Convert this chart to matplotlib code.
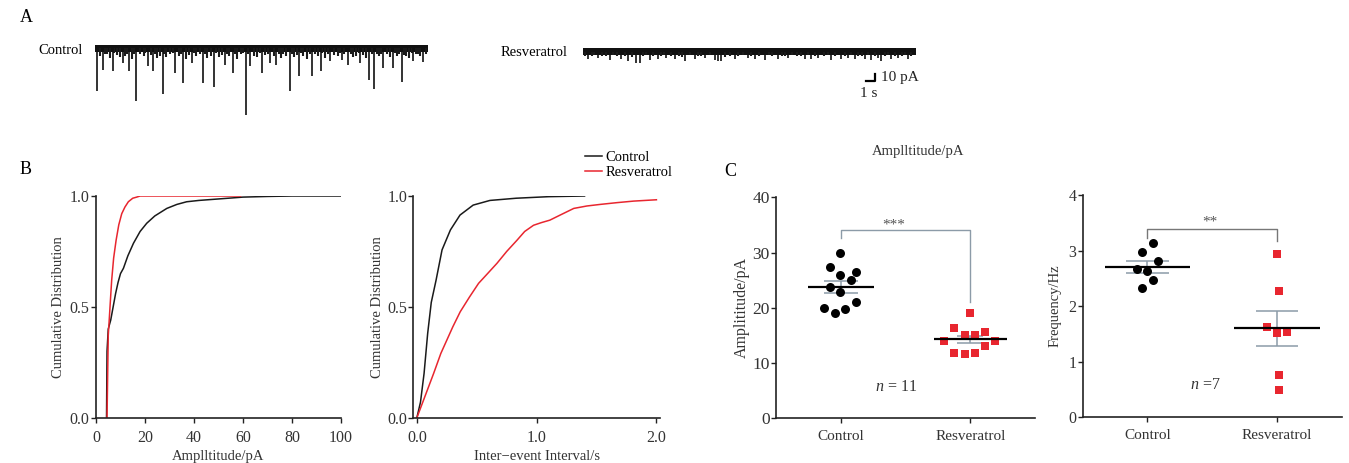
import matplotlib
matplotlib.use('Agg')
import matplotlib.pyplot as plt
import numpy as np

plt.rcParams['font.family'] = ['Liberation Serif', 'DejaVu Serif']
plt.rcParams['mathtext.fontset'] = 'custom'
plt.rcParams['mathtext.it'] = 'Liberation Serif:italic'

W, H = 1349, 463
RED = '#e8262f'
BLK = '#1a1a1a'
SEMC = '#8c9ba8'
TXT = '#333333'

# ---- A: traces (time in s, event amplitude in pA) ----
ctrl_evt_t = [0.18, 0.84, 1.86, 2.94, 3.58, 4.31, 5.57, 6.1, 7.12, 8.41, 9.25, 10.17,
              11.36, 12.51, 13.67, 14.51, 15.88, 16.3, 17.53, 18.4, 19.03, 20.5, 21.48,
              22.79, 23.73, 24.71, 25.94, 26.64, 27.87, 28.84, 29.34, 30.32, 31.3, 32.25,
              33.47, 34.52]
ctrl_evt_amp = [61, 31, 33, 21, 33, 75, 26, 33, 66, 36, 50, 21, 50, 55, 24, 36, 96, 26,
                36, 21, 24, 62, 40, 40, 33, 19, 17, 24, 21, 45, 58, 29, 29, 48, 19, 20]
ctrl_small_t = [0.5, 1.1, 1.3, 1.6, 2.0, 2.3, 2.6, 3.2, 3.4, 3.9, 4.1, 4.7, 5.1, 5.3, 5.9,
                6.3, 6.5, 6.8, 7.3, 7.5, 7.9, 8.2, 8.8, 9.0, 9.6, 9.9, 10.4, 10.6, 11.0,
                11.6, 11.8, 12.2, 12.7, 13.0, 13.3, 13.9, 14.1, 14.7, 14.9, 15.3, 15.6,
                16.1, 16.7, 17.0, 17.3, 17.9, 18.2, 18.8, 19.3, 19.5, 19.8, 20.1, 20.7,
                20.9, 21.2, 21.7, 21.9, 22.3, 22.6, 23.1, 23.4, 23.9, 24.2, 24.5, 25.1,
                25.5, 25.7, 26.2, 26.9, 27.1, 27.4, 27.7, 28.2, 28.5, 29.1, 29.6, 29.8,
                30.1, 30.7, 31.0, 31.5, 31.7, 32.0, 32.5, 32.7, 33.0, 33.3, 33.7, 33.9,
                34.2, 34.8]
ctrl_small_amp = [12, 8, 9, 14, 7, 10, 13, 11, 8, 15, 9, 9, 12, 7, 10, 8, 14, 11, 9, 13,
                  9, 7, 12, 8, 15, 10, 7, 12, 9, 8, 14, 11, 7, 13, 10, 8, 12, 9, 15, 9, 7,
                  8, 11, 13, 7, 10, 8, 12, 9, 14, 9, 11, 8, 13, 10, 7, 12, 15, 8, 9, 11, 7,
                  14, 8, 10, 12, 7, 9, 8, 13, 11, 7, 10, 14, 8, 9, 12, 8, 9, 13, 7, 11, 8,
                  10, 12, 14, 7, 8, 9, 11, 9]
res_evt_t = [0.53, 1.58, 2.81, 4.03, 4.73, 5.6, 5.96, 7.01, 7.89, 8.76, 9.64, 10.69, 11.75,
             12.8, 13.85, 14.2, 14.54, 15.95, 17.35, 18.05, 19.11, 20.5, 21.56, 23.31, 24.0,
             24.71, 26.1, 27.16, 27.87, 28.57, 29.62, 30.32, 31.02, 31.37, 32.42, 33.12,
             34.17]
res_evt_amp = [10, 9, 12, 11, 13, 16, 16, 12, 10, 9, 11, 13, 10, 9, 12, 14, 13, 10, 9, 11,
               12, 10, 9, 11, 10, 9, 12, 10, 9, 11, 10, 12, 9, 13, 10, 9, 11]
res_small_t = [0.2, 0.9, 1.2, 2.0, 2.4, 3.2, 3.6, 4.4, 5.2, 6.3, 6.6, 7.4, 8.2, 8.5, 9.2,
               10.1, 10.4, 11.2, 12.1, 12.4, 13.3, 14.9, 15.4, 16.3, 16.8, 17.7, 18.5, 19.5,
               19.9, 20.9, 21.2, 22.0, 22.5, 22.9, 23.6, 24.4, 25.3, 25.7, 26.5, 27.5, 28.2,
               28.9, 29.3, 30.0, 30.7, 31.7, 32.1, 32.8, 33.5, 33.8, 34.5]
res_small_amp = [6, 7, 5, 7, 6, 5, 7, 6, 8, 6, 5, 7, 6, 5, 7, 6, 8, 5, 6, 7, 5, 8, 6, 7,
                 5, 6, 7, 5, 6, 7, 6, 5, 7, 6, 5, 7, 6, 5, 7, 6, 5, 7, 6, 5, 7, 6, 5, 7,
                 6, 5, 6]
noise_band = (-5.0, 5.0)

# ---- B: cumulative distributions ----
amp_ctrl_x = [4.3, 4.5, 5, 6, 7, 8, 9, 10, 11.2, 13, 15.3, 18, 20.7, 24, 28.9, 33, 37, 42,
              48, 54, 60, 70, 80, 100]
amp_ctrl_y = [0, 0.3, 0.40, 0.44, 0.50, 0.56, 0.61, 0.65, 0.674, 0.73, 0.787, 0.84, 0.877,
              0.91, 0.944, 0.962, 0.974, 0.98, 0.985, 0.99, 0.995, 0.998, 1.0, 1.0]
amp_res_x = [4.5, 5, 6, 6.4, 7.2, 8.2, 9.3, 10.5, 11.8, 13.2, 15, 16.6, 18, 59]
amp_res_y = [0, 0.37, 0.55, 0.62, 0.72, 0.80, 0.87, 0.92, 0.95, 0.974, 0.99, 0.995, 1.0, 1.0]
iei_ctrl_x = [0, 0.03, 0.06, 0.09, 0.12, 0.16, 0.21, 0.28, 0.36, 0.47, 0.61, 0.83, 1.1, 1.4]
iei_ctrl_y = [0, 0.07, 0.2, 0.38, 0.52, 0.62, 0.757, 0.847, 0.914, 0.959, 0.98, 0.99,
              0.997, 1.0]
iei_res_x = [0, 0.07, 0.14, 0.2, 0.25, 0.3, 0.362, 0.44, 0.515, 0.59, 0.668, 0.75, 0.835,
             0.9, 0.974, 1.04, 1.11, 1.2, 1.31, 1.42, 1.53, 1.67, 1.81, 2.0]
iei_res_y = [0, 0.1, 0.2, 0.29, 0.35, 0.41, 0.478, 0.545, 0.606, 0.65, 0.696, 0.75, 0.80,
             0.84, 0.868, 0.88, 0.891, 0.915, 0.944, 0.955, 0.962, 0.97, 0.977, 0.983]

# ---- C: scatter of cells ----
groups = ['Control', 'Resveratrol']
amp_ctrl = [30.0, 27.3, 25.9, 26.5, 25.0, 23.8, 22.9, 19.9, 19.8, 21.0, 19.0]
amp_ctrl_jit = [-0.005, -0.083, -0.005, 0.116, 0.08, -0.083, -0.005, -0.126, 0.036, 0.116, -0.044]
amp_res = [19.0, 16.3, 15.1, 15.1, 15.7, 14.05, 14.05, 13.1, 11.9, 11.6, 11.9]
amp_res_jit = [0, -0.129, -0.044, 0.039, 0.116, -0.206, 0.193, 0.116, -0.129, -0.044, 0.039]
amp_mean = [23.8, 14.3]
amp_sem = [1.1, 0.6]
frq_ctrl = [3.13, 2.97, 2.81, 2.66, 2.64, 2.47, 2.33]
frq_ctrl_jit = [0.039, -0.039, 0.078, -0.08, 0, 0.039, -0.039]
frq_res = [2.94, 2.28, 1.62, 1.51, 1.54, 0.76, 0.50]
frq_res_jit = [0, 0.015, -0.078, 0, 0.078, 0.015, 0.015]
frq_mean = [2.71, 1.60]
frq_sem = [0.11, 0.31]

fig = plt.figure(figsize=(W / 100, H / 100), dpi=100)


def px_axes(x0, y0, x1, y1):
    return fig.add_axes([x0 / W, 1 - y1 / H, (x1 - x0) / W, (y1 - y0) / H])


def style(ax):
    for s in ['top', 'right']:
        ax.spines[s].set_visible(False)
    for s in ['left', 'bottom']:
        ax.spines[s].set_linewidth(1.2)
        ax.spines[s].set_color('#222222')
    ax.tick_params(direction='out', length=3.5, width=1, colors='#222222',
                   labelsize=11.5, labelcolor=TXT, pad=1)
    ax.tick_params(axis='x', pad=5)


# panel A
PX_PER_PA = 0.7
def trace(ax, base_px, evt_t, evt_amp, small_t, small_amp):
    ax.set_xlim(0, 35)
    ax.set_ylim(-(120 - base_px) / PX_PER_PA, (base_px - 40) / PX_PER_PA)
    ax.fill_between([0, 35], noise_band[0], noise_band[1], color='#111111', lw=0)
    ax.vlines(small_t, -np.array(small_amp), 0, color='#1a1a1a', lw=1.5)
    ax.vlines(evt_t, -np.array(evt_amp), 0, color='#111111', lw=1.2)
    ax.axis('off')

ax_a1 = px_axes(95, 40, 428, 120)
trace(ax_a1, 48, ctrl_evt_t, ctrl_evt_amp, ctrl_small_t, ctrl_small_amp)
ax_a2 = px_axes(583, 40, 916, 120)
trace(ax_a2, 51.5, res_evt_t, res_evt_amp, res_small_t, res_small_amp)
ax_a2.plot([29.7, 30.7, 30.7], [-42.1, -42.1, -32.1], color='k', lw=1.6, clip_on=False)
ax_a2.text(31.3, -37, '10 pA', fontsize=11, va='center', ha='left', color='#222222')
ax_a2.text(30.0, -60, '1 s', fontsize=11, va='center', ha='center', color='#222222')

fig.text(83 / W, 1 - 50 / H, 'Control', fontsize=10.5, ha='right', va='center')
fig.text(568 / W, 1 - 53 / H, 'Resveratrol', fontsize=10.5, ha='right', va='center')
fig.text(20 / W, 1 - 18 / H, 'A', fontsize=13, va='center')
fig.text(20 / W, 1 - 170 / H, 'B', fontsize=13, va='center')
fig.text(724 / W, 1 - 171 / H, 'C', fontsize=13, va='center')

# panel B
ax_b1 = px_axes(96, 196, 341, 417.7)
style(ax_b1)
ax_b1.plot(amp_ctrl_x, amp_ctrl_y, color=BLK, lw=1.1)
ax_b1.plot(amp_res_x, amp_res_y, color=RED, lw=1.1)
ax_b1.set_xlim(0, 100)
ax_b1.set_ylim(0, 1)
ax_b1.set_xticks([0, 20, 40, 60, 80, 100])
ax_b1.set_yticks([0, 0.5, 1.0])
ax_b1.set_yticklabels(['0.0', '0.5', '1.0'])
ax_b1.set_xlabel('Amplltitude/pA', fontsize=10.5, color=TXT, labelpad=3)
ax_b1.set_ylabel('Cumulative Distribution', fontsize=10.5, color=TXT)
ax_b1.yaxis.set_label_coords(-0.125, 0.5)

ax_b2 = px_axes(413.3, 196, 660, 417.7)
style(ax_b2)
ax_b2.plot(iei_ctrl_x, iei_ctrl_y, color=BLK, lw=1.1, label='Control')
ax_b2.plot(iei_res_x, iei_res_y, color=RED, lw=1.1, label='Resveratrol')
ax_b2.set_xlim(-0.03, 2.03)
ax_b2.set_ylim(0, 1)
ax_b2.set_xticks([0, 1, 2])
ax_b2.set_xticklabels(['0.0', '1.0', '2.0'])
ax_b2.set_yticks([0, 0.5, 1.0])
ax_b2.set_yticklabels(['0.0', '0.5', '1.0'])
ax_b2.set_xlabel('Inter\u2212event Interval/s', fontsize=10.5, color=TXT, labelpad=3)
ax_b2.set_ylabel('Cumulative Distribution', fontsize=10.5, color=TXT)
ax_b2.yaxis.set_label_coords(-0.12, 0.5)
ax_b2.legend(loc='upper left', bbox_to_anchor=(579 / W, 1 - 145 / H),
             bbox_transform=fig.transFigure, frameon=False, fontsize=10.5,
             handlelength=1.2, handletextpad=0.2, labelspacing=0.1, borderaxespad=0)

# panel C
def dots(ax, vals_c, jit_c, vals_r, jit_r, means, sems, mean_hw, sem_hw, ylim):
    ax.set_xlim(-0.5, 1.5)
    ax.set_ylim(*ylim)
    for i, (m, s) in enumerate(zip(means, sems)):
        ax.hlines([m + s, m - s], i - sem_hw[i], i + sem_hw[i], color=SEMC, lw=1.1, zorder=2)
        ax.vlines(i, m - s, m + s, color=SEMC, lw=1.1, zorder=2)
    ax.scatter(np.array(jit_c), vals_c, s=42, color='black', marker='o', zorder=3, lw=0)
    ax.scatter(1 + np.array(jit_r), vals_r, s=40, color=RED, marker='s', zorder=3, lw=0)
    for i, m in enumerate(means):
        ax.hlines(m, i - mean_hw[i], i + mean_hw[i], color='black', lw=1.6, zorder=4)
    ax.set_xticks([0, 1])
    ax.set_xticklabels(groups, fontsize=11)

ax_c1 = px_axes(776, 197.3, 1035, 418.3)
style(ax_c1)
dots(ax_c1, amp_ctrl, amp_ctrl_jit, amp_res, amp_res_jit, amp_mean, amp_sem,
     [0.255, 0.28], [0.13, 0.1], (0, 40))
ax_c1.set_yticks([0, 10, 20, 30, 40])
ax_c1.tick_params(axis='y', labelsize=12.5)
ax_c1.set_ylabel('Amplititude/pA', fontsize=11.5, color=TXT)
ax_c1.yaxis.set_label_coords(-0.10, 0.5)
ax_c1.plot([0, 0, 1, 1], [32.6, 34.0, 34.0, 21.1], color=SEMC, lw=1)
ax_c1.text(0.41, 35.0, '***', ha='center', va='center', fontsize=11, color='#555555')
ax_c1.text(0.43, 5.7, '$n$ = 11', ha='center', va='center', fontsize=11.5, color=TXT)

ax_c2 = px_axes(1082.7, 195, 1341.7, 417.3)
style(ax_c2)
dots(ax_c2, frq_ctrl, frq_ctrl_jit, frq_res, frq_res_jit, frq_mean, frq_sem,
     [0.33, 0.33], [0.168, 0.16], (0, 4))
ax_c2.set_yticks([0, 1, 2, 3, 4])
ax_c2.set_ylabel('Frequency/Hz', fontsize=10.5, color=TXT)
ax_c2.yaxis.set_label_coords(-0.08, 0.5)
ax_c2.plot([0, 0, 1, 1], [3.22, 3.38, 3.38, 3.17], color='#777777', lw=1)
ax_c2.text(0.48, 3.52, '**', ha='center', va='center', fontsize=11, color='#555555')
ax_c2.text(0.45, 0.58, '$n$ =7', ha='center', va='center', fontsize=11.5, color=TXT)

fig.text(918 / W, 1 - 151 / H, 'Amplltitude/pA', fontsize=10.5, ha='center', va='center',
         color=TXT)

fig.savefig('out.png', dpi=100)
